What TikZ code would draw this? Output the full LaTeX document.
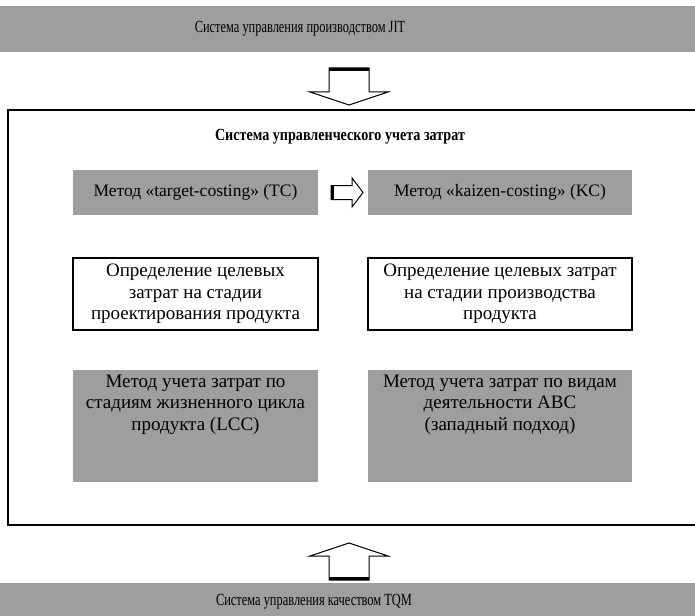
\documentclass[tikz,border=0pt]{standalone}
\usepackage{fontspec}
\setmainfont{Liberation Serif}
\usetikzlibrary{positioning}

\begin{document}
\begin{tikzpicture}[x=1pt, y=-1pt,
    font=\fontsize{19}{21.5}\selectfont,
    band/.style={fill=black!38, minimum width=695pt, inner sep=0pt},
    bandtext/.style={font=\fontsize{17}{19}\selectfont},
    graybox/.style={fill=black!38, inner sep=0pt, align=center},
    whitebox/.style={draw, line width=1.1pt, inner sep=0pt, align=center},
    blockarrow/.style={draw, line width=1pt, fill=white, line join=miter}]

    \useasboundingbox (0,0) rectangle (695,615);

    % JIT band at the top
    \node[band, minimum height=46pt] (jit) at (347.5,29) {};
    \node[bandtext] (jittext) at (300,29)
        {\scalebox{0.73}[1]{Система управления производством JIT}};

    % TQM band at the bottom
    \node[band, minimum height=34pt] (tqm) at (347.5,600) {};
    \node[bandtext] (tqmtext) at (314,602)
        {\scalebox{0.73}[1]{Система управления качеством TQM}};

    % frame of the cost accounting system (open on the right)
    \draw[line width=1.2pt] (695,110) -- (8,110) -- (8,525) -- (695,525);
    \node[font=\fontsize{17}{19}\selectfont\bfseries] (title) at (340,137)
        {\scalebox{0.83}[1]{Система управленческого учета затрат}};

    % first row: TC and KC
    \node[graybox, font=\fontsize{17.5}{20}\selectfont, minimum width=245pt,
        minimum height=45pt] (tc) at (195.5,192.5)
        {Метод «target-costing» (TC)};
    \node[graybox, font=\fontsize{17.5}{20}\selectfont, minimum width=264pt,
        minimum height=45pt] (kc) at (500,192.5)
        {Метод «kaizen-costing» (KC)};

    % second row: target costs
    \node[whitebox, minimum width=245pt, minimum height=72pt] (tcgoal) at (195.5,294)
        {Определение целевых\\затрат на стадии\\проектирования продукта};
    \node[whitebox, minimum width=264pt, minimum height=72pt] (kcgoal) at (500,294)
        {Определение целевых затрат\\на стадии производства\\продукта};

    % third row: LCC and ABC, text in the upper part
    \node[graybox, minimum width=245pt, minimum height=112pt] (lcc) at (195.5,426) {};
    \node[align=center, inner sep=0pt, below=5pt of lcc.north] (lcctext)
        {Метод учета затрат по\\стадиям жизненного цикла\\продукта (LCC)};
    \node[graybox, minimum width=264pt, minimum height=112pt] (abc) at (500,426) {};
    \node[align=center, inner sep=0pt, below=5pt of abc.north] (abctext)
        {Метод учета затрат по видам\\деятельности ABC\\(западный подход)};

    % block arrow down from JIT
    \draw[blockarrow] (329,68) -- (329,92) -- (310,92) -- (349,105)
        -- (388,92) -- (369,92) -- (369,68) -- cycle;
    \draw[line width=2.5pt] (329,69.5) -- (369,69.5);

    % block arrow up from TQM
    \draw[blockarrow] (329,580) -- (329,556) -- (310,556) -- (349,543)
        -- (388,556) -- (369,556) -- (369,580) -- cycle;
    \draw[line width=2.5pt] (329,578.5) -- (369,578.5);

    % small arrow TC -> KC
    \draw[blockarrow] (331,185.5) -- (352,185.5) -- (352,178) -- (363,192.5)
        -- (352,207) -- (352,199.5) -- (331,199.5) -- cycle;
    \draw[line width=2.5pt] (332.5,185.5) -- (332.5,199.5);
\end{tikzpicture}
\end{document}
